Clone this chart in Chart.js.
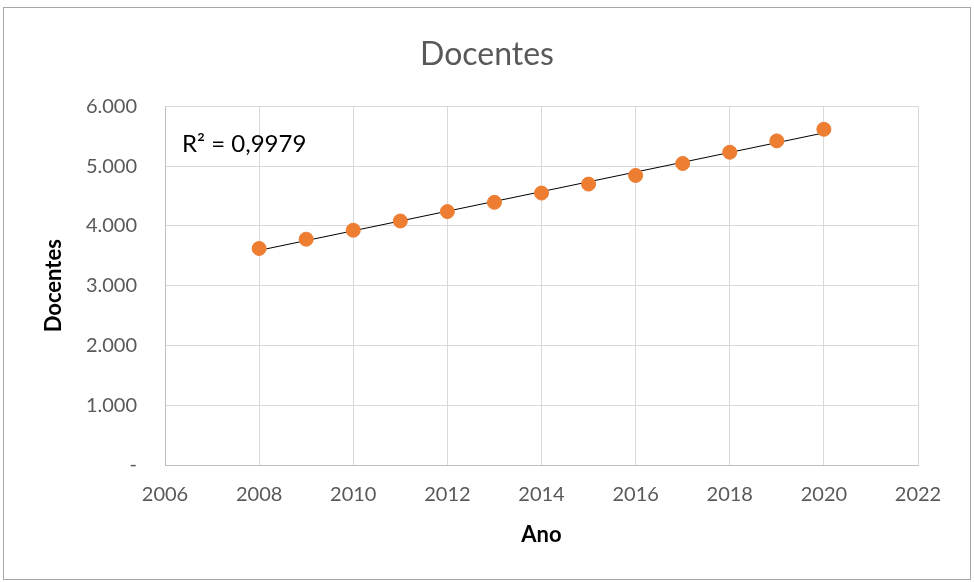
<!DOCTYPE html>
<html lang="pt">
<head>
  <meta charset="UTF-8">
  <title>Docentes</title>
  <script src="https://cdn.jsdelivr.net/npm/chart.js"></script>
  <style>
    body {
      margin: 0;
      background: white;
    }
    #wrap {
      position: relative;
      width: 974px;
      height: 582px;
    }
    #frame {
      position: absolute;
      left: 3px;
      top: 7px;
      width: 966px;
      height: 571px;
      border: 1px solid #a6a6a6;
      pointer-events: none;
    }
  </style>
</head>
<body>
  <div id="wrap">
    <canvas id="docentesChart" width="974" height="582"></canvas>
    <div id="frame"></div>
  </div>
  <script>
    // dados
    const anos = [2008, 2009, 2010, 2011, 2012, 2013, 2014, 2015, 2016, 2017, 2018, 2019, 2020];
    const docentes = [3623, 3778, 3928, 4083, 4240, 4395, 4550, 4700, 4845, 5045, 5233, 5423, 5617];
    const r2Texto = 'R² = 0,9979';

    // linha de tendência linear (mínimos quadrados)
    const n = anos.length;
    const mx = anos.reduce((a, b) => a + b, 0) / n;
    const my = docentes.reduce((a, b) => a + b, 0) / n;
    let sxy = 0, sxx = 0;
    anos.forEach((x, i) => { sxy += (x - mx) * (docentes[i] - my); sxx += (x - mx) * (x - mx); });
    const inclinacao = sxy / sxx;
    const tendencia = [anos[0], anos[n - 1]].map(x => ({ x: x, y: my + inclinacao * (x - mx) }));

    function milhar(v) {
      if (v === 0) return '-';
      const s = String(v);
      return s.slice(0, s.length - 3) + '.' + s.slice(-3);
    }

    const r2Plugin = {
      id: 'r2',
      afterDatasetsDraw(chart) {
        const ctx = chart.ctx;
        ctx.save();
        ctx.font = '24px Lato';
        ctx.fillStyle = '#000';
        ctx.textBaseline = 'alphabetic';
        ctx.fillText(r2Texto, chart.chartArea.left + 17, chart.chartArea.top + 46);
        ctx.restore();
      }
    };

    new Chart(document.getElementById('docentesChart'), {
      type: 'scatter',
      data: {
        datasets: [{
          label: 'Docentes',
          data: anos.map((a, i) => ({ x: a, y: docentes[i] })),
          backgroundColor: '#ED7D31',
          borderColor: '#ED7D31',
          pointRadius: 7,
          pointHoverRadius: 7
        }, {
          label: 'Tendência',
          type: 'line',
          data: tendencia,
          borderColor: '#000',
          borderWidth: 1,
          pointRadius: 0,
          fill: false
        }]
      },
      plugins: [r2Plugin],
      options: {
        responsive: false,
        animation: false,
        layout: { padding: 0 },
        plugins: {
          legend: { display: false },
          tooltip: { enabled: false },
          title: {
            display: true,
            text: 'Docentes',
            color: '#595959',
            font: { family: 'Lato', size: 32, weight: 'normal' },
            padding: { top: 35, bottom: 33 }
          }
        },
        scales: {
          x: {
            type: 'linear',
            min: 2006,
            max: 2022,
            afterFit(scale) { scale.height = 117; },
            ticks: {
              stepSize: 2,
              color: '#595959',
              font: { family: 'Lato', size: 20 },
              padding: 18,
              callback: v => String(v)
            },
            grid: { color: '#d9d9d9', drawTicks: false },
            border: { color: '#bfbfbf' },
            title: {
              display: true,
              text: 'Ano',
              color: '#000',
              font: { family: 'Lato', size: 22, weight: 'bold' },
              padding: { bottom: 34 }
            }
          },
          y: {
            min: 0,
            max: 6000,
            afterFit(scale) { scale.width = 165; },
            ticks: {
              stepSize: 1000,
              color: '#595959',
              font: { family: 'Lato', size: 20 },
              padding: 28,
              callback: v => milhar(v)
            },
            grid: { color: '#d9d9d9', drawTicks: false },
            border: { color: '#bfbfbf' },
            title: {
              display: true,
              text: 'Docentes',
              color: '#000',
              font: { family: 'Lato', size: 22, weight: 'bold' },
              padding: { top: 41 }
            }
          },
          // eixo vazio à direita, só para reservar a margem
          margem: {
            position: 'right',
            min: 0,
            max: 6000,
            afterFit(scale) { scale.width = 56; },
            ticks: { display: false },
            grid: { display: false },
            border: { display: false }
          }
        }
      }
    });
  </script>
</body>
</html>
